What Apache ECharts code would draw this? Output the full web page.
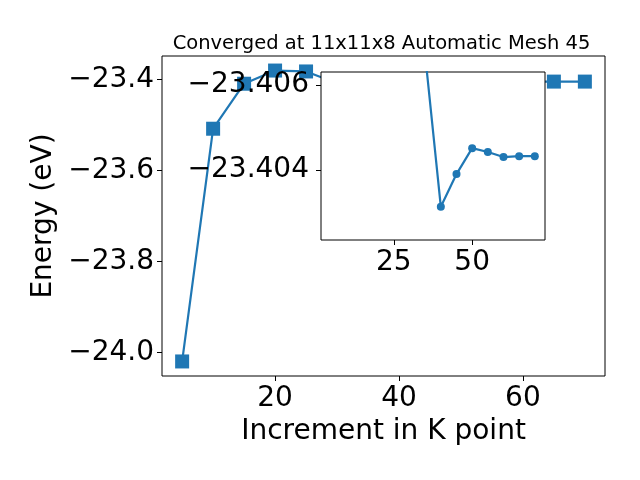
<!DOCTYPE html>
<html>
<head>
<meta charset="utf-8">
<script src="https://cdn.jsdelivr.net/npm/echarts@6/dist/echarts.min.js"></script>
<style>html,body{margin:0;padding:0;background:#fff}#c{width:640px;height:480px}</style>
</head>
<body>
<div id="c"></div>
<script>
var kpoints = [5, 10, 15, 20, 25, 30, 35, 40, 45, 50, 55, 60, 65, 70];
var energy = [-24.02, -23.508, -23.409, -23.380, -23.382, -23.4080, -23.4067, -23.40313, -23.4039, -23.40451, -23.40442, -23.4043, -23.40432, -23.40432];
var insetStart = 5; // inset shows points from k = 30 onward
var mainXTicks = [20, 40, 60];
var mainYTicks = [-24.0, -23.8, -23.6, -23.4];
var insetXTicks = [25, 50];
var insetYTicks = [-23.406, -23.404];
var titleText = 'Converged at 11x11x8 Automatic Mesh 45';
var xName = 'Increment in K point';
var yName = 'Energy (eV)';

var mainData = kpoints.map(function (k, i) { return [k, energy[i]]; });
var insetData = kpoints.slice(insetStart).map(function (k, i) { return [k, energy[i + insetStart]]; });
function fmt(d) { return function (v) { return Number(v).toFixed(d).replace('-', '\u2212'); }; }
var FONT = 'DejaVu Sans';
var C = '#1f77b4';
var tickStyle = { show: true, inside: false, length: 5, lineStyle: { color: '#000', width: 1 } };

var chart = echarts.init(document.getElementById('c'), null, { renderer: 'canvas' });
chart.setOption({
  animation: false,
  backgroundColor: '#fff',
  textStyle: { fontFamily: FONT },
  title: {
    text: titleText, left: 376.5, top: 29, textAlign: 'center',
    textStyle: { fontFamily: FONT, fontSize: 19.5, fontWeight: 'normal', color: '#000' }
  },
  grid: [
    { left: 162, top: 56, width: 443, height: 320, show: true, borderColor: '#000', borderWidth: 1, backgroundColor: 'transparent', z: 0 },
    { left: 321, top: 72, width: 224, height: 168, show: true, borderColor: '#000', borderWidth: 1, backgroundColor: '#fff', z: 10 }
  ],
  xAxis: [
    {
      gridIndex: 0, type: 'value', min: 1.75, max: 73.25,
      splitLine: { show: false }, axisLine: { show: false },
      axisTick: Object.assign({ customValues: mainXTicks }, tickStyle),
      axisLabel: { customValues: mainXTicks, fontSize: 28, color: '#000', margin: 9, fontFamily: FONT },
      name: xName, nameLocation: 'middle', nameGap: 39,
      nameTextStyle: { fontSize: 28, color: '#000', fontFamily: FONT }
    },
    {
      gridIndex: 1, type: 'value', min: 1.75, max: 73.25, z: 11,
      splitLine: { show: false }, axisLine: { show: false },
      axisTick: Object.assign({ customValues: insetXTicks }, tickStyle),
      axisLabel: { customValues: insetXTicks, fontSize: 28, color: '#000', margin: 9, fontFamily: FONT }
    }
  ],
  yAxis: [
    {
      gridIndex: 0, type: 'value', min: -24.052, max: -23.348,
      splitLine: { show: false }, axisLine: { show: false },
      axisTick: Object.assign({ customValues: mainYTicks }, tickStyle),
      axisLabel: { customValues: mainYTicks, fontSize: 28, color: '#000', margin: 8, fontFamily: FONT, formatter: fmt(1) },
      name: yName, nameLocation: 'middle', nameGap: 96, nameRotate: 90,
      nameTextStyle: { fontSize: 28, color: '#000', fontFamily: FONT }
    },
    {
      gridIndex: 1, type: 'value', inverse: true, min: -23.4063, max: -23.40235, z: 11,
      splitLine: { show: false }, axisLine: { show: false },
      axisTick: Object.assign({ customValues: insetYTicks }, tickStyle),
      axisLabel: { customValues: insetYTicks, fontSize: 28, color: '#000', margin: 12, fontFamily: FONT, formatter: fmt(3) }
    }
  ],
  series: [
    {
      type: 'line', xAxisIndex: 0, yAxisIndex: 0, data: mainData, z: 2,
      symbol: 'rect', symbolSize: 14, showSymbol: true,
      lineStyle: { color: C, width: 2.2 }, itemStyle: { color: C }
    },
    {
      type: 'line', xAxisIndex: 1, yAxisIndex: 1, data: insetData, z: 12, clip: true,
      symbol: 'circle', symbolSize: 8, showSymbol: true,
      lineStyle: { color: C, width: 2.2 }, itemStyle: { color: C }
    }
  ]
});
</script>
</body>
</html>
